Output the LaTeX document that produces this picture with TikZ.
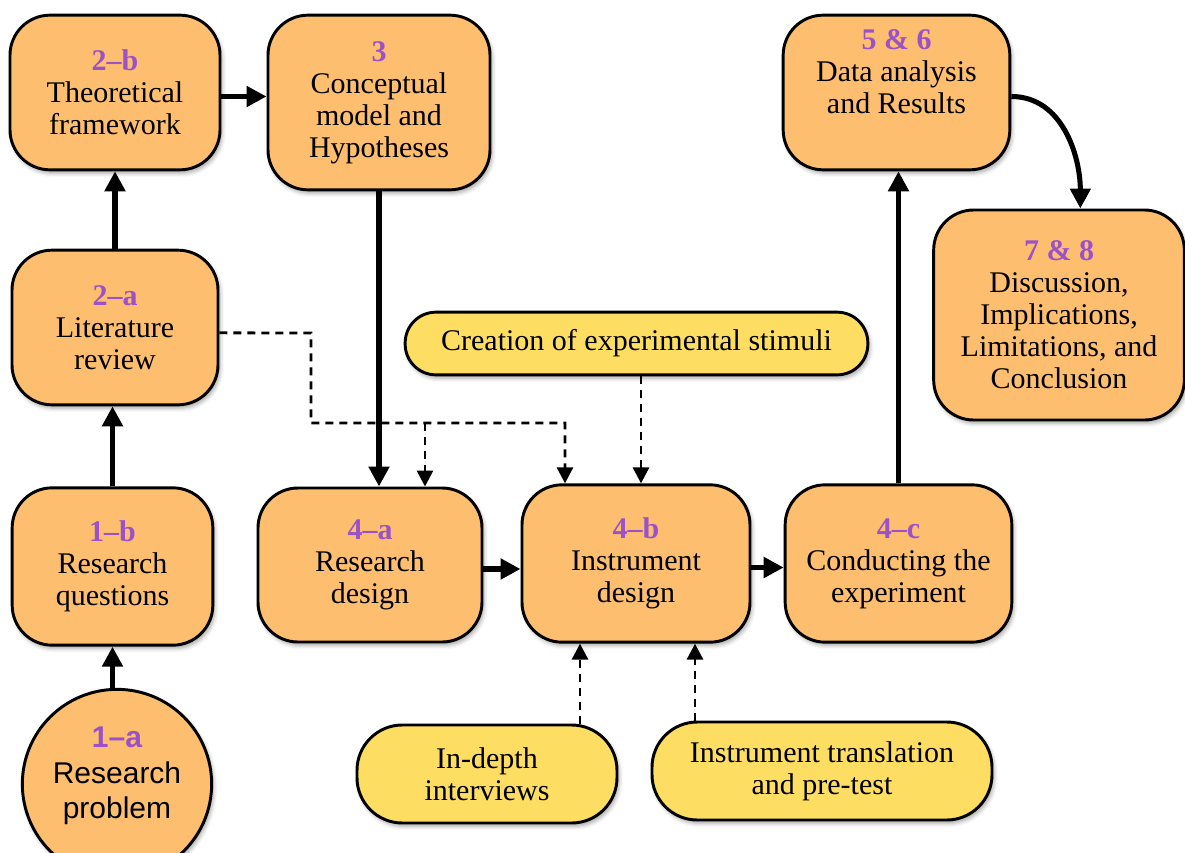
\documentclass[tikz,border=0pt]{standalone}
\usepackage{fontspec}
\setmainfont{Liberation Serif}
\newfontfamily\helvfont{Liberation Sans}
\usetikzlibrary{arrows.meta,shadows.blur}

\definecolor{stageorange}{RGB}{253,191,111}
\definecolor{aidyellow}{RGB}{253,222,98}
\definecolor{tagpurple}{RGB}{155,82,200}

\newcommand{\tagline}[1]{{\bfseries\color{tagpurple}#1}}

\tikzset{
  softshadow/.style={blur shadow={shadow xshift=1.5pt, shadow yshift=-2.5pt,
      shadow blur radius=3pt, shadow opacity=35}},
  stage/.style={draw=black, line width=2.2pt, fill=stageorange,
      rounded corners=30pt, align=center, inner sep=0pt, softshadow,
      font=\fontsize{22.5}{24}\selectfont},
  aid/.style={draw=black, line width=2.2pt, fill=aidyellow,
      align=center, inner sep=0pt, softshadow,
      font=\fontsize{22.5}{24}\selectfont},
  flow/.style={line width=3.8pt, -{Triangle[length=15pt,width=15pt]}},
  feed/.style={line width=2.1pt, dash pattern=on 6pt off 4.5pt,
      -{Triangle[length=12pt,width=12pt]}},
}

\begin{document}
\begin{tikzpicture}[x=0.75pt,y=-0.75pt]
  \useasboundingbox (0,0) rectangle (1185,853);

  % stage boxes
  \node[stage, minimum width=157.5pt, minimum height=116pt] (n2b) at (115,92.5)
    {\tagline{2\textendash b}\\Theoretical\\framework};
  \node[stage, minimum width=166.5pt, minimum height=131pt] (n3) at (379,102.5)
    {\tagline{3}\\Conceptual\\model and\\Hypotheses};
  \node[stage, minimum width=170pt, minimum height=116pt] (n56) at (896.5,92.5)
    {\tagline{5 \& 6}\\Data analysis\\and Results\\\strut};
  \node[stage, minimum width=188pt, minimum height=157.5pt] (n78) at (1059,315)
    {\tagline{7 \& 8}\\Discussion,\\Implications,\\Limitations, and\\Conclusion};
  \node[stage, minimum width=154.5pt, minimum height=116pt] (n2a) at (115,327.5)
    {\tagline{2\textendash a}\\Literature\\review};
  \node[stage, minimum width=150.5pt, minimum height=118pt] (n1b) at (112.5,566.5)
    {\tagline{1\textendash b}\\Research\\questions};
  \node[stage, minimum width=168pt, minimum height=115.5pt] (n4a) at (370,565)
    {\tagline{4\textendash a}\\Research\\design};
  \node[stage, minimum width=171pt, minimum height=118pt] (n4b) at (636,563.5)
    {\tagline{4\textendash b}\\Instrument\\design};
  \node[stage, minimum width=170pt, minimum height=118pt] (n4c) at (898.5,563.5)
    {\tagline{4\textendash c}\\Conducting the\\experiment};

  % starting point
  \node[draw=black, line width=2.2pt, fill=stageorange, circle, softshadow,
        minimum size=142pt, inner sep=0pt] (n1a) at (117,784) {};
  \node[align=center, font=\helvfont\fontsize{22.5}{26.5}\selectfont] (t1a) at (117,776)
    {\tagline{1\textendash a}\\Research\\problem};

  % supporting activities
  \node[aid, rounded corners=23pt, minimum width=347pt, minimum height=47pt] (stim) at (636.5,343.5)
    {Creation of experimental stimuli};
  \node[aid, rounded corners=34pt, minimum width=195pt, minimum height=73.5pt] (idi) at (487,774)
    {In-depth\\interviews};
  \node[aid, rounded corners=34pt, minimum width=255pt, minimum height=73.5pt] (itp) at (822,771)
    {Instrument translation\\and pre-test};

  % main flow
  \draw[flow] (n1b |- n1a.north) -- (n1b.south);
  \draw[flow] (n1b) -- (n1b |- n2a.south);
  \draw[flow] (n2a) -- (n2a |- n2b.south);
  \draw[flow] ([yshift=-3pt]n2b.east) -- ([yshift=-3pt]n2b.east -| n3.west);
  \draw[flow] (n3) -- (n3 |- n4a.north);
  \draw[flow] ([yshift=-3pt]n4a.east) -- ([yshift=-3pt]n4a.east -| n4b.west);
  \draw[flow] ([yshift=-3pt]n4b.east) -- ([yshift=-3pt]n4b.east -| n4c.west);
  \draw[flow] (n4c) -- (n4c |- n56.south);
  \draw[flow] ([yshift=-3pt]n56.east) to[out=0,in=90] ([xshift=16pt]n78.north);

  % supporting inputs
  \coordinate (jogA) at (311,333);
  \coordinate (jogB) at (311,423);
  \coordinate (fork) at (425,423);
  \coordinate (elbow) at (565,423);
  \coordinate (stimx) at (641,0);
  \coordinate (idix) at (580,0);
  \coordinate (itpx) at (695,0);
  \draw[feed] ([yshift=-4pt]n2a.east) -- (jogA) -- (jogB) -- (elbow) -- (elbow |- n4b.north);
  \draw[feed] (fork) -- (fork |- n4a.north);
  \draw[feed] (stimx |- stim.south) -- (stimx |- n4b.north);
  \draw[feed] (idix |- idi.north) -- (idix |- n4b.south);
  \draw[feed] (itpx |- itp.north) -- (itpx |- n4b.south);
\end{tikzpicture}
\end{document}
